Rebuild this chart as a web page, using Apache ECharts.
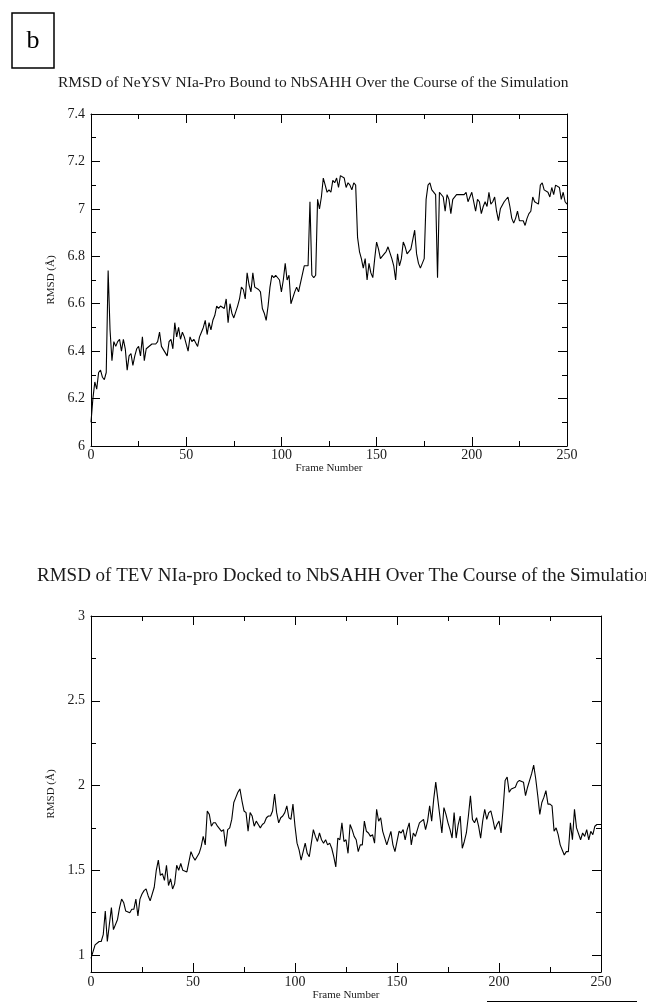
<!DOCTYPE html>
<html>
<head>
<meta charset="utf-8">
<script src="https://cdn.jsdelivr.net/npm/echarts@6/dist/echarts.min.js"></script>
<style>
  html, body { margin: 0; padding: 0; background: #fff; }
  #chart-root { width: 646px; height: 1004px; }
</style>
</head>
<body>
<div id="chart-root"></div>
<script>
// NeYSV NIa-Pro bound to NbSAHH (top panel)
const topFrames = [0, 1, 2, 3, 4, 5, 6, 7, 8, 9, 10, 11, 12, 13, 14, 15, 16, 17, 18, 19, 20, 21, 22, 23, 24, 25, 26, 27, 28, 29, 30, 32, 34, 35, 36, 37, 38, 40, 41, 42, 43, 44, 45, 46, 47, 48, 49, 51, 52, 53, 54, 56, 57, 58, 59, 60, 61, 62, 63, 64, 65, 66, 67, 68, 70, 71, 72, 73, 74, 75, 76, 77, 78, 79, 80, 81, 82, 83, 84, 85, 86, 88, 89, 90, 91, 92, 93, 94, 95, 96, 97, 99, 100, 101, 102, 103, 104, 105, 107, 108, 109, 110, 112, 114, 115, 116, 117, 118, 119, 120, 121, 122, 123, 124, 125, 126, 127, 128, 129, 130, 131, 132, 133, 134, 135, 136, 137, 138, 139, 140, 141, 142, 143, 144, 145, 146, 147, 148, 149, 150, 151, 152, 154, 155, 156, 157, 158, 159, 160, 161, 162, 163, 164, 165, 166, 168, 169, 170, 171, 172, 173, 174, 175, 176, 177, 178, 179, 181, 182, 183, 184, 185, 186, 187, 188, 189, 190, 192, 194, 196, 197, 198, 199, 200, 202, 203, 204, 205, 206, 207, 208, 209, 210, 211, 212, 213, 214, 215, 217, 218, 219, 220, 221, 222, 223, 224, 225, 226, 227, 228, 229, 230, 231, 232, 233, 235, 236, 237, 238, 239, 240, 241, 242, 243, 244, 246, 247, 248, 249, 250];
const topRmsd = [6.10, 6.20, 6.27, 6.24, 6.31, 6.32, 6.29, 6.28, 6.31, 6.74, 6.49, 6.36, 6.44, 6.42, 6.44, 6.45, 6.40, 6.45, 6.41, 6.32, 6.38, 6.39, 6.34, 6.38, 6.41, 6.42, 6.38, 6.46, 6.36, 6.41, 6.41, 6.43, 6.43, 6.44, 6.48, 6.42, 6.42, 6.38, 6.44, 6.45, 6.41, 6.52, 6.46, 6.50, 6.45, 6.48, 6.46, 6.40, 6.46, 6.44, 6.45, 6.42, 6.46, 6.48, 6.50, 6.53, 6.47, 6.52, 6.49, 6.53, 6.55, 6.59, 6.58, 6.59, 6.58, 6.62, 6.52, 6.60, 6.56, 6.54, 6.54, 6.59, 6.62, 6.67, 6.66, 6.62, 6.73, 6.68, 6.65, 6.73, 6.67, 6.66, 6.65, 6.58, 6.56, 6.53, 6.59, 6.67, 6.72, 6.71, 6.72, 6.70, 6.65, 6.70, 6.77, 6.70, 6.72, 6.60, 6.65, 6.67, 6.65, 6.65, 6.76, 6.76, 7.03, 6.72, 6.71, 6.72, 7.04, 7.00, 7.05, 7.13, 7.10, 7.07, 7.08, 7.07, 7.12, 7.11, 7.13, 7.09, 7.14, 7.14, 7.13, 7.09, 7.11, 7.10, 7.08, 7.11, 7.10, 6.88, 6.82, 6.79, 6.75, 6.79, 6.70, 6.77, 6.73, 6.71, 6.79, 6.86, 6.83, 6.79, 6.81, 6.82, 6.84, 6.84, 6.79, 6.76, 6.70, 6.81, 6.76, 6.79, 6.86, 6.84, 6.81, 6.83, 6.87, 6.91, 6.81, 6.77, 6.75, 6.75, 6.79, 7.04, 7.10, 7.11, 7.08, 7.06, 6.71, 7.07, 7.07, 7.05, 6.99, 7.06, 7.04, 6.98, 7.04, 7.06, 7.06, 7.06, 7.07, 7.03, 7.05, 7.07, 6.99, 7.04, 7.03, 6.98, 7.01, 7.03, 7.01, 7.07, 7.02, 7.03, 7.05, 6.99, 6.95, 7.00, 7.03, 7.03, 7.05, 7.01, 6.96, 6.94, 6.96, 6.99, 6.95, 6.95, 6.95, 6.93, 6.96, 6.98, 6.99, 7.05, 7.03, 7.02, 7.10, 7.11, 7.08, 7.08, 7.07, 7.05, 7.09, 7.06, 7.10, 7.09, 7.04, 7.07, 7.03, 7.02];

// TEV NIa-pro docked to NbSAHH (bottom panel)
const bottomFrames = [0, 2, 4, 5, 6, 7, 8, 9, 10, 11, 13, 14, 15, 16, 17, 19, 20, 21, 22, 23, 24, 25, 26, 27, 28, 29, 31, 32, 33, 34, 35, 36, 37, 38, 39, 40, 41, 42, 43, 44, 45, 47, 48, 49, 50, 51, 52, 53, 54, 55, 56, 57, 58, 59, 60, 61, 62, 64, 65, 66, 67, 68, 69, 70, 71, 72, 73, 74, 75, 76, 77, 78, 79, 80, 81, 82, 83, 84, 85, 86, 87, 88, 89, 90, 91, 92, 93, 94, 95, 96, 97, 98, 99, 100, 101, 102, 103, 104, 105, 106, 107, 108, 109, 110, 111, 112, 113, 114, 115, 116, 117, 118, 119, 120, 121, 122, 123, 124, 125, 126, 127, 128, 129, 130, 131, 132, 133, 134, 135, 136, 137, 138, 139, 140, 141, 142, 143, 144, 145, 147, 148, 149, 150, 151, 152, 153, 154, 155, 156, 157, 158, 159, 160, 161, 163, 164, 165, 166, 167, 168, 169, 170, 171, 172, 173, 174, 175, 176, 177, 178, 179, 180, 181, 182, 183, 184, 185, 186, 187, 188, 189, 190, 191, 192, 193, 194, 195, 196, 197, 198, 199, 200, 201, 202, 203, 204, 205, 206, 208, 209, 210, 212, 213, 214, 215, 216, 217, 218, 219, 220, 221, 222, 223, 224, 225, 226, 227, 228, 229, 230, 231, 232, 233, 234, 235, 236, 237, 238, 240, 241, 242, 243, 244, 245, 246, 247, 248, 250];
const bottomRmsd = [0.98, 1.06, 1.08, 1.08, 1.12, 1.26, 1.08, 1.18, 1.28, 1.15, 1.21, 1.28, 1.33, 1.31, 1.26, 1.25, 1.27, 1.27, 1.33, 1.23, 1.33, 1.36, 1.38, 1.39, 1.35, 1.32, 1.40, 1.50, 1.56, 1.47, 1.48, 1.44, 1.53, 1.41, 1.45, 1.39, 1.42, 1.53, 1.50, 1.54, 1.50, 1.49, 1.55, 1.61, 1.58, 1.56, 1.58, 1.60, 1.64, 1.70, 1.65, 1.85, 1.83, 1.76, 1.78, 1.78, 1.76, 1.73, 1.74, 1.64, 1.74, 1.75, 1.80, 1.90, 1.93, 1.96, 1.98, 1.91, 1.85, 1.84, 1.73, 1.84, 1.82, 1.76, 1.79, 1.77, 1.75, 1.77, 1.78, 1.81, 1.82, 1.82, 1.85, 1.95, 1.84, 1.78, 1.81, 1.82, 1.84, 1.88, 1.81, 1.80, 1.89, 1.76, 1.66, 1.62, 1.56, 1.61, 1.66, 1.60, 1.58, 1.66, 1.74, 1.70, 1.67, 1.72, 1.68, 1.66, 1.68, 1.65, 1.66, 1.63, 1.58, 1.52, 1.69, 1.68, 1.78, 1.67, 1.68, 1.60, 1.77, 1.74, 1.70, 1.68, 1.61, 1.65, 1.65, 1.79, 1.73, 1.72, 1.70, 1.71, 1.66, 1.86, 1.79, 1.81, 1.73, 1.69, 1.65, 1.73, 1.65, 1.61, 1.67, 1.73, 1.72, 1.74, 1.68, 1.74, 1.78, 1.65, 1.72, 1.70, 1.74, 1.78, 1.80, 1.74, 1.79, 1.88, 1.79, 1.92, 2.02, 1.92, 1.82, 1.72, 1.87, 1.83, 1.78, 1.74, 1.69, 1.84, 1.69, 1.77, 1.82, 1.63, 1.67, 1.72, 1.82, 1.94, 1.80, 1.78, 1.81, 1.76, 1.69, 1.79, 1.86, 1.80, 1.84, 1.85, 1.80, 1.74, 1.77, 1.79, 1.72, 1.86, 2.03, 2.05, 1.96, 1.98, 1.99, 2.02, 2.03, 2.02, 1.94, 1.99, 2.03, 2.07, 2.12, 2.04, 1.94, 1.83, 1.90, 1.93, 1.97, 1.89, 1.89, 1.88, 1.73, 1.75, 1.71, 1.65, 1.62, 1.59, 1.61, 1.61, 1.78, 1.68, 1.86, 1.75, 1.68, 1.72, 1.70, 1.74, 1.68, 1.73, 1.71, 1.76, 1.77, 1.77];

// tick positions
const frameMajorTicks = [0, 50, 100, 150, 200, 250];
const frameMinorTicks = [25, 75, 125, 175, 225];
const topMajorTicks = [6, 6.2, 6.4, 6.6, 6.8, 7, 7.2, 7.4];
const topMinorTicks = [6.1, 6.3, 6.5, 6.7, 6.9, 7.1, 7.3];
const bottomMajorTicks = [1, 1.5, 2, 2.5, 3];
const bottomMinorTicks = [1.25, 1.75, 2.25, 2.75];

const topTitle = 'RMSD of NeYSV NIa-Pro Bound to NbSAHH Over the Course of the Simulation';
const bottomTitle = 'RMSD of TEV NIa-pro Docked to NbSAHH Over The Course of the Simulation';

const serif = '"Liberation Serif", "DejaVu Serif", serif';
const ink = '#000';
const textInk = '#1a1a1a';

function zip(xs, ys) {
  return xs.map(function (x, i) { return [x, ys[i]]; });
}

// one frame side: line + custom ticks, optionally labels and a name
function sideAxis(o) {
  const ax = {
    type: 'value', gridIndex: o.grid, position: o.position,
    min: o.min, max: o.max,
    axisLine: { show: !!o.line, onZero: false, lineStyle: { color: ink, width: 1 } },
    axisTick: { show: true, inside: true, length: o.len, customValues: o.ticks, lineStyle: { color: ink, width: 1 } },
    axisLabel: { show: !!o.labels, color: textInk, fontFamily: serif, fontSize: 14, margin: o.margin || 4 },
    splitLine: { show: false }
  };
  if (o.labels) {
    ax.axisLabel.customValues = o.ticks;
  }
  if (o.name) {
    ax.name = o.name;
    ax.nameLocation = 'middle';
    ax.nameGap = o.nameGap;
    ax.nameTextStyle = { color: textInk, fontFamily: serif, fontSize: 11 };
  }
  return ax;
}

function frameAxes(grid, marginLbl, nameGap) {
  return [
    sideAxis({ grid: grid, position: 'bottom', min: 0, max: 250, ticks: frameMajorTicks, len: 9, line: true, labels: true, margin: marginLbl, name: 'Frame Number', nameGap: nameGap }),
    sideAxis({ grid: grid, position: 'bottom', min: 0, max: 250, ticks: frameMinorTicks, len: 5 }),
    sideAxis({ grid: grid, position: 'top', min: 0, max: 250, ticks: frameMajorTicks, len: 9, line: true }),
    sideAxis({ grid: grid, position: 'top', min: 0, max: 250, ticks: frameMinorTicks, len: 5 })
  ];
}

function rmsdAxes(grid, min, max, major, minor) {
  return [
    sideAxis({ grid: grid, position: 'left', min: min, max: max, ticks: major, len: 9, line: true, labels: true, margin: 6, name: 'RMSD (Å)', nameGap: 29 }),
    sideAxis({ grid: grid, position: 'left', min: min, max: max, ticks: minor, len: 5 }),
    sideAxis({ grid: grid, position: 'right', min: min, max: max, ticks: major, len: 9, line: true }),
    sideAxis({ grid: grid, position: 'right', min: min, max: max, ticks: minor, len: 5 })
  ];
}

const root = document.getElementById('chart-root');
const chart = echarts.init(root, null, { renderer: 'canvas' });

chart.setOption({
  animation: false,
  backgroundColor: '#fff',
  title: [
    { text: topTitle, left: 53, top: 70, textStyle: { fontFamily: serif, fontSize: 15.5, fontWeight: 'normal', color: textInk } },
    { text: bottomTitle, left: 32, top: 562, textStyle: { fontFamily: serif, fontSize: 19, fontWeight: 'normal', color: textInk } }
  ],
  grid: [
    { left: 91, top: 114, width: 476, height: 332 },
    { left: 91, top: 616, width: 510, height: 356 }
  ],
  xAxis: frameAxes(0, 2, 13).concat(frameAxes(1, 3, 18)),
  yAxis: rmsdAxes(0, 6, 7.4, topMajorTicks, topMinorTicks).concat(rmsdAxes(1, 0.9, 3, bottomMajorTicks, bottomMinorTicks)),
  series: [
    {
      type: 'line', xAxisIndex: 0, yAxisIndex: 0, data: zip(topFrames, topRmsd),
      showSymbol: false, lineStyle: { color: ink, width: 1.1 }, silent: true
    },
    {
      type: 'line', xAxisIndex: 4, yAxisIndex: 4, data: zip(bottomFrames, bottomRmsd),
      showSymbol: false, lineStyle: { color: ink, width: 1.1 }, silent: true
    }
  ],
  graphic: [
    { type: 'rect', shape: { x: 12, y: 13, width: 42, height: 55 }, style: { fill: '#fff', stroke: ink, lineWidth: 1.5 } },
    { type: 'text', x: 33, y: 41, style: { text: 'b', font: '26px ' + serif, fill: ink, align: 'center', verticalAlign: 'middle' } },
    { type: 'line', shape: { x1: 487, y1: 1001.5, x2: 637, y2: 1001.5 }, style: { stroke: ink, lineWidth: 1 } }
  ]
});
</script>
</body>
</html>
